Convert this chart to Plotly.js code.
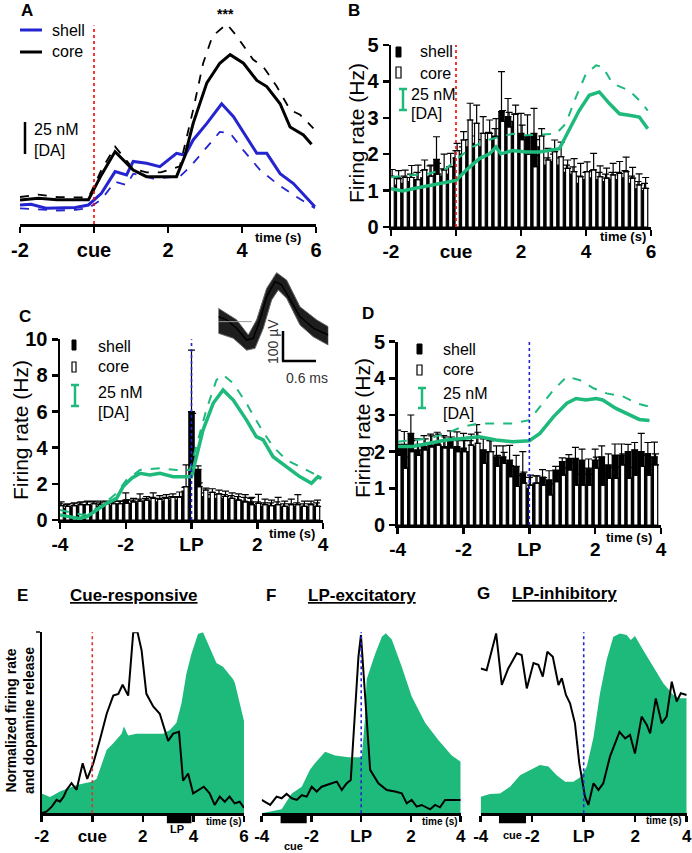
<!DOCTYPE html>
<html>
<head>
<meta charset="utf-8">
<script src="https://cdn.plot.ly/plotly-3.0.1.min.js"></script>
<style>
  html, body { margin: 0; padding: 0; background: #fff; }
  #fig { width: 692px; height: 853px; }
</style>
</head>
<body>
<div id="fig"></div>
<script>
// ---------- data ----------

// panel A: dopamine traces (nM), shell / core, mean (solid) and sem (dashed)
const a_core_t = [-2, -1.5, -1, -0.5, -0.15, 0.2, 0.57, 1.06, 1.42, 1.8, 2.23, 2.45, 2.68, 3.05, 3.4, 3.68, 4.04, 4.4, 4.67, 5.03, 5.3, 5.66, 5.88];
const a_core = [19.6, 21, 19.8, 19.8, 19.8, 40, 59, 44, 38.6, 38.6, 38.6, 55, 82, 115, 131, 138, 131, 117, 112, 98, 79, 72.5, 65];
const a_core_sem_t = [-2, -1.5, -1, -0.5, -0.15, 0.2, 0.57, 1.06, 1.42, 1.8, 2.32, 2.68, 2.95, 3.2, 3.59, 3.86, 4.3, 4.58, 4.94, 5.3, 5.57, 5.93];
const a_core_sem = [22, 24, 22, 22, 21.5, 44, 63, 45, 42, 42, 47, 93, 131, 153, 163, 153, 134, 128, 112, 93, 89, 78];
const a_shell_t = [-2, -1.7, -1.3, -0.5, -0.15, 0.2, 0.57, 0.88, 1.06, 1.42, 1.78, 2.23, 2.46, 2.68, 3.05, 3.45, 3.77, 4.13, 4.4, 4.67, 5.03, 5.39, 5.97];
const a_shell = [15.5, 16, 12.8, 13.5, 15.5, 25, 42.7, 40, 51, 49.5, 46.7, 57.6, 56, 68.5, 82, 98, 87.5, 71, 57.6, 57.6, 41, 33, 14];
const a_shell_sem_t = [-2, -1.5, -1, -0.5, -0.15, 0.2, 0.57, 0.88, 1.06, 1.6, 2.32, 2.6, 3.05, 3.4, 3.68, 4.04, 4.49, 4.94, 5.39, 5.97];
const a_shell_sem = [12.8, 12, 11, 11.5, 13, 20, 34.5, 31.8, 41, 37, 38.6, 46.7, 63, 75, 74, 60, 44, 33, 23.6, 12.8];

// panel B: firing rate (Hz) in 0.2 s bins from -2 s, plus DA trace
const b_core = [1.36, 1.33, 1.36, 1.36, 1.3, 1.57, 1.4, 1.45, 1.57, 1.66, 2.1, 2.39, 2.94, 2.85, 2.57, 2.57, 2.48, 2.9, 2.75, 3.1, 2.4, 2.0, 1.66, 2.5, 1.84, 2.07, 1.93, 1.61, 1.52, 1.38, 1.52, 1.57, 1.38, 1.34, 1.43, 1.47, 1.52, 1.34, 1.16, 1.06];
const b_core_err = [0.22, 0.22, 0.2, 0.33, 0.4, 0.27, 0.3, 0.3, 0.43, 0.36, 0.2, 0.23, 0.46, 0.5, 0.46, 0.37, 0.5, 0.3, 0.4, 0.25, 0.4, 0.5, 0.3, 0.2, 0.32, 0.32, 0.4, 0.23, 0.36, 0.37, 0.27, 0.45, 0.3, 0.28, 0.32, 0.33, 0.4, 0.3, 0.3, 0.3];
const b_shell = [1.2, 1.15, 1.2, 1.25, 1.3, 1.35, 1.38, 1.86, 1.4, 1.45, 1.9, 2.0, 2.2, 2.3, 2.2, 2.4, 2.5, 3.17, 3.03, 2.9, 2.57, 2.48, 2.57, 2.2, 1.7, 1.8, 1.7, 1.5, 1.45, 1.2, 1.3, 1.35, 1.3, 1.25, 1.3, 1.3, 1.35, 1.2, 1.05, 1.0];
const b_shell_err = [0.2, 0.2, 0.2, 0.2, 0.2, 0.2, 0.3, 0.62, 0.2, 0.2, 0.2, 0.2, 0.2, 0.2, 0.2, 0.2, 0.2, 1.1, 0.5, 0.2, 0.55, 0.6, 0.69, 0.2, 0.2, 0.2, 0.2, 0.2, 0.2, 0.2, 0.2, 0.2, 0.2, 0.2, 0.2, 0.2, 0.2, 0.2, 0.2, 0.2];
const b_da_t = [-2, -1.64, -1.33, -0.82, -0.31, 0, 0.31, 0.72, 1.03, 1.23, 1.38, 1.74, 2.15, 2.56, 3.18, 3.49, 3.79, 4.1, 4.41, 4.72, 5.03, 5.33, 5.64, 5.9];
const b_da = [1.05, 0.99, 1.05, 1.14, 1.24, 1.28, 1.56, 1.88, 2.01, 2.2, 2.01, 2.1, 2.06, 2.06, 2.15, 2.66, 3.2, 3.62, 3.71, 3.39, 3.11, 3.07, 3.02, 2.7];
const b_da_sem_t = [-2, -1.33, -0.82, -0.31, 0.1, 0.51, 0.92, 1.33, 1.74, 2.15, 2.77, 3.08, 3.38, 3.69, 4.0, 4.31, 4.51, 4.82, 5.33, 5.64, 5.9];
const b_da_sem = [1.37, 1.42, 1.47, 1.6, 1.92, 2.2, 2.38, 2.47, 2.56, 2.52, 2.56, 2.56, 2.84, 3.57, 4.21, 4.44, 4.4, 3.94, 3.75, 3.48, 3.2];

// panel C: firing rate (Hz) in 0.2 s bins from -4 s around lever press
const c_core = [0.8, 0.75, 0.8, 0.85, 0.85, 0.9, 0.85, 0.9, 0.9, 0.9, 0.92, 1.0, 1.05, 1.1, 1.2, 1.15, 1.2, 1.25, 1.25, 1.85, 2.8, 1.85, 1.66, 1.53, 1.45, 1.3, 1.2, 1.1, 1.0, 0.85, 0.92, 0.85, 0.8, 0.85, 0.75, 0.85, 0.85, 0.75, 0.85, 0.75];
const c_core_err = [0.2, 0.15, 0.15, 0.15, 0.2, 0.15, 0.2, 0.15, 0.15, 0.15, 0.2, 0.2, 0.4, 0.2, 0.3, 0.2, 0.2, 0.2, 0.3, 1.2, 3.1, 0.2, 0.1, 0.2, 0.2, 0.3, 0.3, 0.35, 0.4, 0.4, 0.5, 0.3, 0.3, 0.4, 0.3, 0.3, 0.55, 0.3, 0.2, 0.35];
const c_shell = [0.7, 0.65, 0.7, 0.75, 0.8, 0.8, 0.75, 0.8, 0.8, 0.85, 1.1, 0.9, 0.95, 1.0, 1.05, 1.0, 1.05, 1.1, 1.1, 1.6, 6.0, 2.8, 1.3, 1.2, 1.2, 1.2, 1.15, 1.1, 1.05, 1.0, 0.8, 0.75, 0.75, 0.8, 0.7, 0.7, 0.75, 0.7, 0.7, 0.75];
const c_shell_err = [0.2, 0.2, 0.2, 0.2, 0.2, 0.2, 0.2, 0.2, 0.2, 0.2, 0.4, 0.2, 0.2, 0.2, 0.2, 0.2, 0.2, 0.2, 0.2, 0.2, 3.4, 0.2, 0.2, 0.2, 0.2, 0.2, 0.2, 0.2, 0.2, 0.2, 0.2, 0.2, 0.2, 0.2, 0.2, 0.2, 0.2, 0.2, 0.2, 0.2];
const c_da_t = [-4, -3.7, -3.44, -3.19, -2.89, -2.58, -2.28, -2.08, -1.82, -1.57, -1.27, -0.96, -0.56, -0.15, 0, 0.15, 0.35, 0.66, 0.96, 1.27, 1.67, 1.97, 2.18, 2.48, 2.89, 3.29, 3.65, 3.85, 3.95];
const c_da = [0.28, 0.18, 0.09, 0.18, 0.55, 0.92, 1.2, 1.85, 2.31, 2.58, 2.49, 2.58, 2.4, 2.4, 2.4, 3.5, 4.98, 6.46, 7.2, 6.64, 5.54, 4.61, 4.43, 3.5, 2.95, 2.4, 2.03, 2.4, 2.3];
const c_da_sem_t = [-4, -3.29, -2.78, -2.28, -1.98, -1.57, -0.96, -0.46, -0.05, 0.15, 0.45, 0.76, 0.96, 1.27, 1.67, 2.08, 2.48, 2.89, 3.29, 3.7, 3.95];
const c_da_sem = [0.55, 0.28, 0.74, 1.48, 2.21, 2.77, 2.86, 2.77, 2.77, 4.06, 6.09, 7.75, 8.03, 7.56, 6.46, 5.17, 4.06, 3.32, 2.95, 2.58, 2.77];

// panel D: firing rate (Hz) in 0.2 s bins from -4 s around lever press
const d_core = [1.9, 1.55, 2.0, 1.9, 2.05, 2.13, 2.18, 2.1, 2.1, 2.0, 2.0, 2.18, 2.23, 1.68, 2.0, 1.6, 1.68, 1.32, 1.05, 1.14, 1.09, 1.14, 1.09, 0.82, 1.18, 1.36, 1.5, 1.09, 1.09, 1.09, 1.55, 1.09, 1.27, 1.27, 1.64, 1.27, 1.36, 1.6, 1.36, 1.64];
const d_core_err = [0.3, 0.3, 0.3, 0.3, 0.3, 0.3, 0.3, 0.3, 0.3, 0.3, 0.3, 0.3, 0.3, 0.3, 0.3, 0.3, 0.3, 0.3, 0.3, 0.3, 0.27, 0.2, 0.2, 0.3, 0.3, 0.2, 0.2, 0.3, 0.3, 0.3, 0.3, 0.3, 0.3, 0.3, 0.3, 0.3, 0.3, 0.3, 0.3, 0.3];
const d_shell = [2.14, 2.2, 2.5, 2.05, 2.14, 2.18, 2.23, 2.14, 2.32, 2.14, 2.1, 2.0, 2.14, 2.05, 2.0, 1.86, 1.86, 1.77, 1.6, 1.4, 1.0, 1.14, 1.31, 1.23, 1.5, 1.73, 1.82, 1.82, 1.77, 1.55, 1.77, 1.86, 1.64, 1.91, 1.91, 2.0, 2.05, 2.0, 1.95, 1.86];
const d_shell_err = [0.45, 0.35, 0.5, 0.3, 0.3, 0.3, 0.3, 0.3, 0.25, 0.4, 0.4, 0.3, 0.6, 0.3, 0.3, 0.3, 0.3, 0.4, 0.3, 0.6, 0.3, 0.2, 0.2, 0.25, 0.1, 0.1, 0.1, 0.3, 0.3, 0.25, 0.3, 0.3, 0.3, 0.3, 0.3, 0.2, 0.2, 0.5, 0.3, 0.4];
const d_da_t = [-4, -3.54, -3.04, -2.53, -2.03, -1.52, -1.01, -0.51, 0, 0.32, 0.73, 1.14, 1.42, 1.72, 2.03, 2.23, 2.63, 3.04, 3.34, 3.65];
const d_da = [2.14, 2.14, 2.23, 2.32, 2.36, 2.41, 2.32, 2.27, 2.3, 2.5, 2.95, 3.32, 3.45, 3.41, 3.45, 3.41, 3.18, 3.0, 2.88, 2.85];
const d_da_sem_t = [-4, -3.04, -2.53, -2.03, -1.52, -1.01, -0.51, 0, 0.32, 0.73, 1.14, 1.54, 1.95, 2.35, 2.86, 3.26, 3.65];
const d_da_sem = [2.27, 2.36, 2.5, 2.68, 2.77, 2.77, 2.77, 2.86, 3.23, 3.68, 4.05, 3.95, 3.73, 3.59, 3.5, 3.32, 3.23];

// panels E-G: normalized firing (black) and dopamine (green)
const e_da_t = [-2, -1.67, -1.28, -0.62, -0.03, 0.17, 0.57, 0.83, 1.16, 1.25, 1.42, 1.75, 2.28, 2.8, 3.07, 3.33, 3.53, 3.72, 3.92, 4.18, 4.38, 4.64, 4.91, 5.17, 5.57, 5.64, 6];
const e_da = [0.11, 0.09, 0.12, 0.157, 0.175, 0.19, 0.35, 0.387, 0.44, 0.48, 0.43, 0.44, 0.44, 0.44, 0.46, 0.5, 0.61, 0.77, 0.88, 0.99, 1.0, 0.92, 0.83, 0.81, 0.74, 0.72, 0.51];
const e_fr_t = [-2, -1.8, -1.6, -1.41, -1.28, -1.14, -1.01, -0.82, -0.62, -0.38, -0.2, 0.04, 0.3, 0.57, 0.83, 1.03, 1.2, 1.42, 1.62, 1.79, 1.95, 2.14, 2.41, 2.67, 3.0, 3.2, 3.43, 3.59, 3.79, 3.99, 4.41, 4.64, 4.84, 5.04, 5.24, 5.43, 5.63, 5.83, 6];
const e_fr = [0.0, 0.01, 0.037, 0.074, 0.064, 0.09, 0.13, 0.166, 0.13, 0.276, 0.19, 0.276, 0.405, 0.55, 0.65, 0.66, 0.71, 0.65, 1.0, 1.0, 0.9, 0.66, 0.59, 0.55, 0.4, 0.44, 0.45, 0.18, 0.22, 0.11, 0.147, 0.11, 0.046, 0.092, 0.064, 0.092, 0.055, 0.064, 0.03];
const f_da_t = [-4, -3.2, -2.79, -2.39, -2.06, -1.86, -1.45, -1.05, -0.51, -0.05, 0.02, 0.15, 0.22, 0.56, 0.83, 0.99, 1.23, 1.63, 2.03, 2.57, 3.1, 3.64, 4];
const f_da = [0.0, 0.022, 0.11, 0.147, 0.24, 0.276, 0.34, 0.32, 0.31, 0.31, 0.31, 0.52, 0.74, 0.88, 0.976, 0.995, 0.96, 0.81, 0.645, 0.5, 0.405, 0.32, 0.285];
const f_fr_t = [-4, -3.66, -3.4, -3.2, -3.0, -2.79, -2.59, -2.39, -2.19, -1.99, -1.79, -1.59, -1.18, -0.98, -0.78, -0.58, -0.42, -0.25, -0.11, -0.01, 0.13, 0.36, 0.69, 1.03, 1.36, 1.63, 1.83, 2.03, 2.23, 2.43, 2.77, 2.97, 3.17, 3.37, 4];
const f_fr = [0.074, 0.046, 0.092, 0.083, 0.107, 0.083, 0.074, 0.1, 0.092, 0.147, 0.12, 0.147, 0.166, 0.175, 0.129, 0.166, 0.184, 0.59, 0.866, 0.985, 0.7, 0.24, 0.166, 0.129, 0.12, 0.11, 0.055, 0.074, 0.037, 0.046, 0.022, 0.046, 0.033, 0.074, 0.074];
const g_da_t = [-4, -3.64, -3.25, -2.86, -2.47, -2.08, -1.7, -1.37, -1.05, -0.72, -0.4, -0.12, 0.12, 0.38, 0.63, 0.89, 1.15, 1.41, 1.67, 1.83, 1.99, 2.32, 2.71, 3.09, 3.48, 3.74, 4];
const g_da = [0.092, 0.107, 0.11, 0.147, 0.21, 0.24, 0.267, 0.258, 0.21, 0.175, 0.175, 0.2, 0.258, 0.42, 0.66, 0.847, 0.976, 0.994, 0.985, 0.958, 0.98, 0.9, 0.81, 0.718, 0.654, 0.635, 0.635];
const g_fr_t = [-4, -3.77, -3.4, -3.18, -2.93, -2.6, -2.41, -2.21, -1.95, -1.76, -1.59, -1.41, -1.2, -0.98, -0.85, -0.69, -0.53, -0.34, -0.17, -0.04, 0.05, 0.18, 0.38, 0.57, 0.76, 1.02, 1.39, 1.61, 1.8, 1.99, 2.25, 2.45, 2.58, 2.8, 3.03, 3.22, 3.42, 3.61, 3.77, 4];
const g_fr = [0.8, 0.79, 0.994, 0.709, 0.8, 0.884, 0.875, 0.69, 0.83, 0.82, 0.755, 0.893, 0.865, 0.709, 0.746, 0.654, 0.608, 0.497, 0.276, 0.166, 0.092, 0.046, 0.166, 0.129, 0.166, 0.313, 0.45, 0.414, 0.433, 0.33, 0.534, 0.488, 0.442, 0.635, 0.497, 0.534, 0.727, 0.617, 0.663, 0.654];

// behavioural event bars under E-G (start, end in s)
const e_lp_bar = [2.95, 3.92];
const f_cue_bar = [-3.24, -2.19];
const g_cue_bar = [-3.29, -2.24];

// inset spike waveform (ms, uV)
const wf_mean_t = [0, 0.15, 0.33, 0.51, 0.63, 0.75, 0.87, 1.02, 1.14, 1.29, 1.47, 1.71, 1.98];
const wf_mean = [17, 6, -22, -62, -56, 6, 84, 135, 124, 73, 17, -22, -45];
const wf_upper_t = [0, 0.33, 0.54, 0.69, 0.87, 1.05, 1.23, 1.47, 1.77, 1.98];
const wf_upper = [45, 6, -45, 6, 112, 165, 140, 50, 6, -17];
const wf_lower_t = [0, 0.27, 0.51, 0.66, 0.81, 0.96, 1.08, 1.23, 1.47, 1.71, 1.98];
const wf_lower = [-39, -56, -96, -90, -22, 73, 107, 79, -11, -51, -79];

// ---------- helpers ----------
const W = 692, H = 853;
const FONT = 'Liberation Sans, Arial, sans-serif';
const NARROW = 'Liberation Sans Narrow, Liberation Sans, Arial, sans-serif';
const GREEN = '#1dba7c';
const BLUE = '#2424d0';

function xdom(a, b) { return [a / W, b / W]; }
function ydom(top, bottom) { return [1 - bottom / H, 1 - top / H]; }

// bin centres, one every 0.2 s
function binCentres(start, n) {
  let out = [];
  for (let i = 0; i < n; i++) out.push(Math.round((start + 0.2 * i) * 10) / 10);
  return out;
}

function zeros(arr) { return arr.map(function () { return 0; }); }

function line(x, y, xa, ya, color, width, dash) {
  return { x: x, y: y, xaxis: xa, yaxis: ya, type: 'scatter', mode: 'lines',
    line: { color: color, width: width, dash: dash || 'solid', shape: 'linear' }, hoverinfo: 'skip' };
}

function bars(x, y, err, xa, ya, isShell) {
  return {
    x: x, y: y, xaxis: xa, yaxis: ya, type: 'bar',
    width: isShell ? 0.2 : 0.13, offset: isShell ? -0.1 : -0.03,
    marker: { color: isShell ? 'black' : 'white', line: { color: 'black', width: isShell ? 0 : 1.2 } },
    error_y: { type: 'data', symmetric: false, array: err, arrayminus: zeros(err), color: 'black', thickness: 1.2, width: 3.5 },
    hoverinfo: 'skip'
  };
}

function area(x, y, xa, ya) {
  return { x: x, y: y, xaxis: xa, yaxis: ya, type: 'scatter', mode: 'lines', fill: 'tozeroy',
    fillcolor: GREEN, line: { width: 0, color: GREEN }, hoverinfo: 'skip' };
}

function ann(text, px, py, opts) {
  return Object.assign({ text: text, x: px / W, y: 1 - py / H, xref: 'paper', yref: 'paper',
    showarrow: false, xanchor: 'center', yanchor: 'middle',
    font: { family: FONT, size: 16, color: 'black' } }, opts || {});
}

function pline(x0, y0, x1, y1, color, width) {
  return { type: 'line', xref: 'paper', yref: 'paper', x0: x0 / W, y0: 1 - y0 / H, x1: x1 / W, y1: 1 - y1 / H,
    line: { color: color, width: width } };
}

function vline(xa, ya, top, color, dash) {
  return { type: 'line', xref: xa, yref: ya + ' domain', x0: 0, x1: 0, y0: 0, y1: top,
    line: { color: color, width: 1.6, dash: dash } };
}

function xaxisStyle(dom, anchor, range, vals, text, size, family) {
  return { domain: dom, anchor: anchor, range: range, tickvals: vals, ticktext: text,
    showline: true, linecolor: 'black', linewidth: 2.5, ticks: 'outside', ticklen: 6, tickwidth: 2.5,
    tickcolor: 'black', showgrid: false, zeroline: false, fixedrange: true,
    tickfont: { family: family || FONT, size: size || 19, weight: 'bold', color: 'black' } };
}

function yaxisStyle(dom, anchor, range, vals) {
  return { domain: dom, anchor: anchor, range: range, tickvals: vals,
    showline: true, linecolor: 'black', linewidth: 2.5, ticks: 'outside', ticklen: 6, tickwidth: 2.5,
    tickcolor: 'black', showgrid: false, zeroline: false, fixedrange: true,
    tickfont: { family: FONT, size: 20, weight: 'bold', color: 'black' } };
}

// ---------- traces ----------
const bins_b = binCentres(-2, b_core.length);
const bins_cd = binCentres(-4, c_core.length);

let data = [
  // A
  line(a_shell_sem_t, a_shell_sem, 'x', 'y', BLUE, 1.8, 'dash'),
  line(a_core_sem_t, a_core_sem, 'x', 'y', 'black', 1.8, 'dash'),
  line(a_shell_t, a_shell, 'x', 'y', BLUE, 3),
  line(a_core_t, a_core, 'x', 'y', 'black', 3),
  // B
  bars(bins_b, b_shell, b_shell_err, 'x2', 'y2', true),
  bars(bins_b, b_core, b_core_err, 'x2', 'y2', false),
  line(b_da_sem_t, b_da_sem, 'x2', 'y2', GREEN, 2, 'dash'),
  line(b_da_t, b_da, 'x2', 'y2', GREEN, 3.5),
  // C
  bars(bins_cd, c_shell, c_shell_err, 'x3', 'y3', true),
  bars(bins_cd, c_core, c_core_err, 'x3', 'y3', false),
  line(c_da_sem_t, c_da_sem, 'x3', 'y3', GREEN, 2, 'dash'),
  line(c_da_t, c_da, 'x3', 'y3', GREEN, 3.5),
  // D
  bars(bins_cd, d_shell, d_shell_err, 'x4', 'y4', true),
  bars(bins_cd, d_core, d_core_err, 'x4', 'y4', false),
  line(d_da_sem_t, d_da_sem, 'x4', 'y4', GREEN, 2, 'dash'),
  line(d_da_t, d_da, 'x4', 'y4', GREEN, 3.5),
  // E-G
  area(e_da_t, e_da, 'x5', 'y5'),
  line(e_fr_t, e_fr, 'x5', 'y5', 'black', 2),
  area(f_da_t, f_da, 'x6', 'y6'),
  line(f_fr_t, f_fr, 'x6', 'y6', 'black', 2),
  area(g_da_t, g_da, 'x7', 'y7'),
  line(g_fr_t, g_fr, 'x7', 'y7', 'black', 2),
  // inset waveform: envelope then mean
  { x: wf_upper_t.concat(wf_lower_t.slice().reverse()), y: wf_upper.concat(wf_lower.slice().reverse()),
    xaxis: 'x8', yaxis: 'y8', type: 'scatter', mode: 'lines', fill: 'toself', fillcolor: '#1e1e1e',
    line: { color: '#666', width: 1 }, hoverinfo: 'skip' },
  line(wf_mean_t, wf_mean, 'x8', 'y8', '#000', 1.5)
];

// ---------- layout ----------
const tx_cue = ['-2', 'cue', '2', '4', '6'];
const tx_lp = ['-4', '-2', 'LP', '2', '4'];

let layout = {
  width: W, height: H,
  margin: { l: 0, r: 0, t: 0, b: 0 },
  paper_bgcolor: 'white', plot_bgcolor: 'rgba(0,0,0,0)',
  showlegend: false, barmode: 'overlay',
  font: { family: FONT, color: 'black' },

  xaxis: xaxisStyle(xdom(20, 316), 'y', [-2, 6], [-2, 0, 2, 4, 6], tx_cue, 20),
  yaxis: { domain: ydom(15, 224), anchor: 'x', range: [0, 170.3], visible: false, fixedrange: true },

  xaxis2: xaxisStyle(xdom(391, 651), 'y2', [-2, 6], [-2, 0, 2, 4, 6], tx_cue, 19),
  yaxis2: yaxisStyle(ydom(45, 227), 'x2', [0, 5], [0, 1, 2, 3, 4, 5]),

  xaxis3: xaxisStyle(xdom(60, 323), 'y3', [-4, 4], [-4, -2, 0, 2, 4], tx_lp, 19),
  yaxis3: yaxisStyle(ydom(339.3, 520), 'x3', [0, 10], [0, 2, 4, 6, 8, 10]),

  xaxis4: xaxisStyle(xdom(397.7, 661), 'y4', [-4, 4], [-4, -2, 0, 2, 4], tx_lp, 19),
  yaxis4: yaxisStyle(ydom(341.7, 525), 'x4', [0, 5], [0, 1, 2, 3, 4, 5]),

  xaxis5: xaxisStyle(xdom(41.7, 244), 'y5', [-2, 6], [-2, 0, 2, 4, 6], tx_cue, 17, NARROW),
  yaxis5: { domain: ydom(632.3, 813.3), anchor: 'x5', range: [0, 1], tickvals: [1], ticktext: [''],
    showline: true, linecolor: 'black', linewidth: 2, ticks: 'outside', ticklen: 4, tickwidth: 2,
    showgrid: false, zeroline: false, fixedrange: true },

  xaxis6: xaxisStyle(xdom(261.7, 460.7), 'y6', [-4, 4], [-4, -2, 0, 2, 4], tx_lp, 17, NARROW),
  yaxis6: { domain: ydom(632.3, 813.3), anchor: 'x6', range: [0, 1], visible: false, fixedrange: true },

  xaxis7: xaxisStyle(xdom(480.7, 686.7), 'y7', [-4, 4], [-4, -2, 0, 2, 4], tx_lp, 17, NARROW),
  yaxis7: { domain: ydom(632.3, 813.3), anchor: 'x7', range: [0, 1], visible: false, fixedrange: true },

  xaxis8: { domain: xdom(218.3, 328.3), anchor: 'y8', range: [0, 1.98], visible: false, fixedrange: true },
  yaxis8: { domain: ydom(270, 353), anchor: 'x8', range: [-105.6, 174], visible: false, fixedrange: true },

  shapes: [
    // event lines
    vline('x', 'y', 0.95, 'red', 'dot'),
    vline('x2', 'y2', 1, 'red', 'dot'),
    vline('x3', 'y3', 1, BLUE, 'dot'),
    vline('x4', 'y4', 1, BLUE, 'dot'),
    vline('x5', 'y5', 1, '#e0302c', 'dot'),
    vline('x6', 'y6', 1, BLUE, 'dot'),
    vline('x7', 'y7', 1, BLUE, 'dot'),
    // event bars below E-G axes
    { type: 'rect', xref: 'x5', yref: 'y5 domain', x0: e_lp_bar[0], x1: e_lp_bar[1], y0: -0.005, y1: -0.055, fillcolor: 'black', line: { width: 0 } },
    { type: 'rect', xref: 'x6', yref: 'y6 domain', x0: f_cue_bar[0], x1: f_cue_bar[1], y0: -0.005, y1: -0.055, fillcolor: 'black', line: { width: 0 } },
    { type: 'rect', xref: 'x7', yref: 'y7 domain', x0: g_cue_bar[0], x1: g_cue_bar[1], y0: -0.005, y1: -0.055, fillcolor: 'black', line: { width: 0 } },
    // inset baseline
    { type: 'line', xref: 'x8', yref: 'y8', x0: 0, x1: 0.6, y0: 0, y1: 0, line: { color: '#999', width: 1 } },
    // inset scale bar
    pline(283, 331, 283, 361, 'black', 2.5),
    pline(282, 361, 316, 361, 'black', 2.5),
    // A legend and scale bar
    pline(20, 30, 42, 30, BLUE, 3),
    pline(20, 52, 42, 52, 'black', 3),
    pline(25, 122, 25, 154, 'black', 2.5),
    // B legend glyphs
    { type: 'rect', xref: 'paper', yref: 'paper', x0: 396 / W, x1: 401 / W, y0: 1 - 57 / H, y1: 1 - 47 / H, fillcolor: 'black', line: { color: 'black', width: 1 } },
    { type: 'rect', xref: 'paper', yref: 'paper', x0: 396 / W, x1: 401 / W, y0: 1 - 78 / H, y1: 1 - 67 / H, fillcolor: 'white', line: { color: 'black', width: 1.2 } },
    pline(403, 89, 403, 110, GREEN, 2.5), pline(399, 89, 407, 89, GREEN, 2.5), pline(399, 110, 407, 110, GREEN, 2.5),
    // C legend glyphs
    { type: 'rect', xref: 'paper', yref: 'paper', x0: 72 / W, x1: 76 / W, y0: 1 - 350 / H, y1: 1 - 340 / H, fillcolor: 'black', line: { color: 'black', width: 1 } },
    { type: 'rect', xref: 'paper', yref: 'paper', x0: 72 / W, x1: 76 / W, y0: 1 - 372 / H, y1: 1 - 362 / H, fillcolor: 'white', line: { color: 'black', width: 1.2 } },
    pline(75, 385, 75, 406, GREEN, 2.5), pline(71, 385, 79, 385, GREEN, 2.5), pline(71, 406, 79, 406, GREEN, 2.5),
    // D legend glyphs
    { type: 'rect', xref: 'paper', yref: 'paper', x0: 417 / W, x1: 422 / W, y0: 1 - 354 / H, y1: 1 - 344 / H, fillcolor: 'black', line: { color: 'black', width: 1 } },
    { type: 'rect', xref: 'paper', yref: 'paper', x0: 417 / W, x1: 422 / W, y0: 1 - 375 / H, y1: 1 - 365 / H, fillcolor: 'white', line: { color: 'black', width: 1.2 } },
    pline(422, 388, 422, 408, GREEN, 2.5), pline(418, 388, 426, 388, GREEN, 2.5), pline(418, 408, 426, 408, GREEN, 2.5)
  ],

  annotations: [
    // panel letters
    ann('<b>A</b>', 27, 10, { font: { family: FONT, size: 17 } }),
    ann('<b>B</b>', 354, 10, { font: { family: FONT, size: 17 } }),
    ann('<b>C</b>', 25, 317, { font: { family: FONT, size: 17 } }),
    ann('<b>D</b>', 368, 313, { font: { family: FONT, size: 17 } }),
    ann('<b>E</b>', 22, 595, { font: { family: FONT, size: 17 } }),
    ann('<b>F</b>', 271, 595, { font: { family: FONT, size: 17 } }),
    ann('<b>G</b>', 483, 593, { font: { family: FONT, size: 17 } }),
    // A
    ann('shell', 50, 30, { xanchor: 'left' }),
    ann('core', 50, 52, { xanchor: 'left' }),
    ann('25 nM', 32, 129, { xanchor: 'left' }),
    ann('[DA]', 32, 150, { xanchor: 'left' }),
    ann('<b>***</b>', 226, 14, { font: { family: FONT, size: 14 } }),
    ann('<b>time (s)</b>', 278, 238, { font: { family: FONT, size: 13 } }),
    // B
    ann('shell', 418, 52, { xanchor: 'left' }),
    ann('core', 418, 73, { xanchor: 'left' }),
    ann('25 nM', 409, 95, { xanchor: 'left' }),
    ann('[DA]', 409, 114, { xanchor: 'left' }),
    ann('Firing rate (Hz)', 356, 133, { textangle: -90, font: { family: FONT, size: 21 } }),
    ann('<b>time (s)</b>', 623, 236, { font: { family: FONT, size: 13 } }),
    // C
    ann('shell', 96, 346, { xanchor: 'left' }),
    ann('core', 96, 367, { xanchor: 'left' }),
    ann('25 nM', 96, 392, { xanchor: 'left' }),
    ann('[DA]', 96, 412, { xanchor: 'left' }),
    ann('Firing rate (Hz)', 20, 430, { textangle: -90, font: { family: FONT, size: 21 } }),
    ann('<b>time (s)</b>', 292, 533, { font: { family: FONT, size: 13 } }),
    ann('100 µV', 273, 342, { textangle: -90, font: { family: FONT, size: 14, color: '#333' } }),
    ann('0.6 ms', 307, 378, { font: { family: FONT, size: 14, color: '#333' } }),
    // D
    ann('shell', 441, 350, { xanchor: 'left' }),
    ann('core', 441, 370, { xanchor: 'left' }),
    ann('25 nM', 441, 393, { xanchor: 'left' }),
    ann('[DA]', 441, 413, { xanchor: 'left' }),
    ann('Firing rate (Hz)', 362, 428, { textangle: -90, font: { family: FONT, size: 21 } }),
    ann('<b>time (s)</b>', 629, 537, { font: { family: FONT, size: 13 } }),
    // E-G titles
    ann('<b>Cue-responsive</b>', 134, 595, { font: { family: FONT, size: 17, lineposition: 'under' } }),
    ann('<b>LP-excitatory</b>', 362, 595, { font: { family: FONT, size: 17, lineposition: 'under' } }),
    ann('<b>LP-inhibitory</b>', 564, 593, { font: { family: FONT, size: 17, lineposition: 'under' } }),
    ann('<b>Normalized firing rate<br>and dopamine release</b>', 20, 721, { textangle: -90, font: { family: FONT, size: 14 } }),
    ann('<b>time (s)</b>', 224, 821, { font: { family: NARROW, size: 10 } }),
    ann('<b>time (s)</b>', 440, 821, { font: { family: NARROW, size: 10 } }),
    ann('<b>time (s)</b>', 664, 820, { font: { family: NARROW, size: 10 } }),
    ann('<b>LP</b>', 177, 829, { font: { family: NARROW, size: 11 } }),
    ann('<b>cue</b>', 293, 846, { font: { family: NARROW, size: 11 } }),
    ann('<b>cue</b>', 512, 835, { font: { family: NARROW, size: 11 } })
  ]
};

Plotly.newPlot('fig', data, layout, { staticPlot: true });
</script>
</body>
</html>
